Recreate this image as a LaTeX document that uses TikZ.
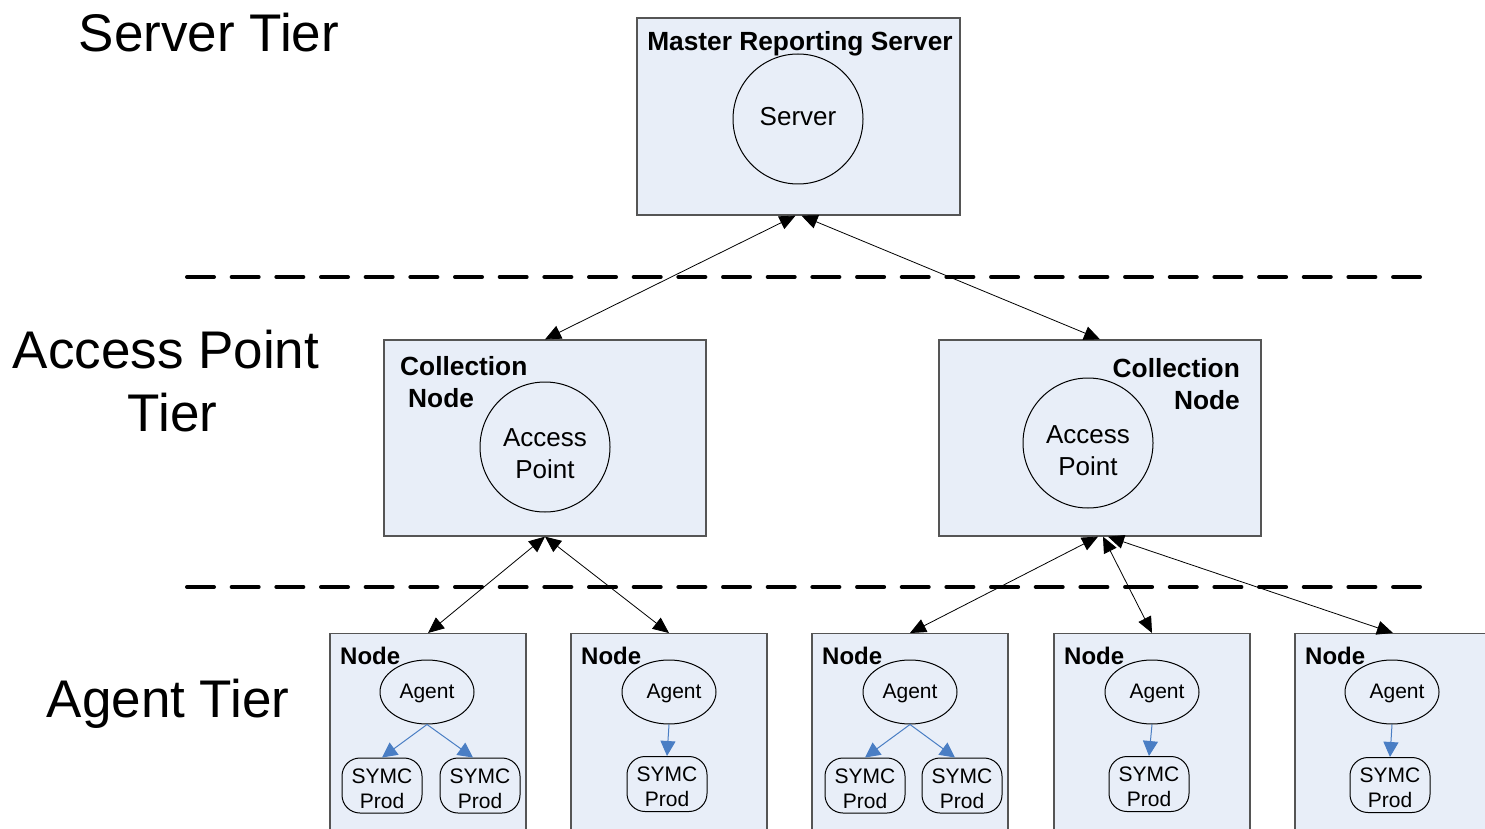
\documentclass[tikz,border=0pt]{standalone}
\usepackage{fontspec}
\setmainfont{Liberation Sans}
\usetikzlibrary{arrows.meta,shapes.geometric,calc}
\definecolor{boxfill}{RGB}{232,238,248}
\definecolor{boxline}{RGB}{85,85,85}
\definecolor{arrblue}{RGB}{74,126,196}
\begin{document}
\begin{tikzpicture}[x=1pt,y=-1pt,
 tierlabel/.style={font=\fontsize{53}{63}\selectfont, inner sep=0pt, align=center},
 tierbox/.style={draw=boxline, line width=1.3pt, fill=boxfill, inner sep=0pt},
 titletext/.style={font=\bfseries\fontsize{26.3}{32}\selectfont, inner sep=0pt},
 nodetitle/.style={font=\bfseries\fontsize{24}{28}\selectfont, inner sep=0pt, anchor=base west},
 circtext/.style={font=\fontsize{26}{32}\selectfont, inner sep=0pt, align=center},
 smalltext/.style={font=\fontsize{21}{25}\selectfont, inner sep=0pt, align=center},
 bigcircle/.style={circle, draw, line width=1pt, minimum size=130pt, inner sep=0pt},
 agent/.style={ellipse, draw, line width=1pt, minimum width=94pt, minimum height=64pt, inner sep=0pt},
 prod/.style={rectangle, rounded corners=18pt, draw, line width=1pt, minimum width=80pt, minimum height=55pt, inner sep=0pt},
 link/.style={line width=0.8pt, {Triangle[length=16pt,width=14pt]}-{Triangle[length=16pt,width=14pt]}},
 sublink/.style={arrblue, line width=1pt, -{Triangle[length=15pt,width=15pt]}},
 tierline/.style={line width=4pt, line cap=round, dash pattern=on 27pt off 17.67pt}
]
\useasboundingbox (0,0) rectangle (1485,829);
\clip (0,0) rectangle (1485,829);

% tier labels
\node[tierlabel, anchor=base] (tserver) at (209,52) {Server Tier};
\node[tierlabel] (taccess) at (166,381) {Access Point\\\hspace*{13pt}Tier};
\node[tierlabel, anchor=base] (tagent) at (168,717) {Agent Tier};

% dashed tier separators
\coordinate (d1a) at (187,277); \coordinate (d1b) at (1420,277);
\coordinate (d2a) at (187,587); \coordinate (d2b) at (1420,587);
\draw[tierline] (d1a) -- (d1b);
\draw[tierline] (d2a) -- (d2b);

% server tier
\node[tierbox, minimum width=323pt, minimum height=197pt] (master) at (798.5,116.5) {};
\node[titletext, anchor=base] (mtitle) at (800,51) {Master Reporting Server};
\node[bigcircle, label={[circtext, yshift=2pt]center:Server}] (srv) at (798,119) {};

% access point tier
\node[tierbox, minimum width=322pt, minimum height=196pt] (lcoll) at (545,438) {};
\node[titletext, anchor=base west] (lct1) at (400,375) {Collection};
\node[titletext, anchor=base west] (lct2) at (408,407) {Node};
\node[bigcircle, label={[circtext, yshift=-7pt]center:Access\\Point}] (lap) at (545,447) {};

\node[tierbox, minimum width=322pt, minimum height=196pt] (rcoll) at (1100,438) {};
\node[titletext, anchor=base east] (rct1) at (1240,377) {Collection};
\node[titletext, anchor=base east] (rct2) at (1240,409) {Node};
\node[bigcircle, label={[circtext, yshift=-8pt]center:Access\\Point}] (rap) at (1088,443) {};

% agent tier boxes
\foreach \n/\x in {1/428,2/669,3/910,4/1152,5/1393}{
  \node[tierbox, anchor=north, minimum width=196pt, minimum height=220pt] (box\n) at (\x,633) {};
  \node[nodetitle] (bt\n) at (\x-88,664) {Node};
}
\node[agent, label={[smalltext, yshift=-1.5pt]center:Agent}] (ag1) at (427,692) {};
\node[agent, label={[smalltext, xshift=5pt, yshift=-1.5pt]center:Agent}] (ag2) at (669,692) {};
\node[agent, label={[smalltext, yshift=-1.5pt]center:Agent}] (ag3) at (910,692) {};
\node[agent, label={[smalltext, xshift=5pt, yshift=-1.5pt]center:Agent}] (ag4) at (1152,692) {};
\node[agent, label={[smalltext, xshift=5pt, yshift=-1.5pt]center:Agent}] (ag5) at (1392,692) {};

\node[prod, label={[smalltext, yshift=-3pt]center:SYMC\\Prod}] (p1a) at (382,785.5) {};
\node[prod, label={[smalltext, yshift=-3pt]center:SYMC\\Prod}] (p1b) at (480,785.5) {};
\node[prod, label={[smalltext, yshift=-3pt]center:SYMC\\Prod}] (p2) at (667,784) {};
\node[prod, label={[smalltext, yshift=-3pt]center:SYMC\\Prod}] (p3a) at (865,785.5) {};
\node[prod, label={[smalltext, yshift=-3pt]center:SYMC\\Prod}] (p3b) at (962,785.5) {};
\node[prod, label={[smalltext, yshift=-3pt]center:SYMC\\Prod}] (p4) at (1149,784) {};
\node[prod, label={[smalltext, yshift=-3pt]center:SYMC\\Prod}] (p5) at (1390,785) {};

\draw[sublink] (ag1.south) -- (p1a.north);
\draw[sublink] (ag1.south) -- ($(p1b.north)+(-7,0)$);
\draw[sublink] (ag2.south) -- (p2.north);
\draw[sublink] (ag3.south) -- (p3a.north);
\draw[sublink] (ag3.south) -- ($(p3b.north)+(-7,0)$);
\draw[sublink] (ag4.south) -- (p4.north);
\draw[sublink] (ag5.south) -- (p5.north);

% connectors between tiers
\coordinate (m1) at ($(master.south)+(-3,0)$);
\coordinate (m2) at ($(master.south)+(3,0)$);
\draw[link] (m1) -- (lcoll.north);
\draw[link] (m2) -- (rcoll.north);

\draw[link] (lcoll.south) -- (box1.north);
\draw[link] (lcoll.south) -- (box2.north);

\coordinate (rs1) at ($(rcoll.south)+(-2,0)$);
\coordinate (rs2) at ($(rcoll.south)+(3,0)$);
\coordinate (rs3) at ($(rcoll.south)+(8,0)$);
\draw[link] (rs1) -- (box3.north);
\draw[link] (rs2) -- (box4.north);
\draw[link] (rs3) -- (box5.north);
\end{tikzpicture}
\end{document}
